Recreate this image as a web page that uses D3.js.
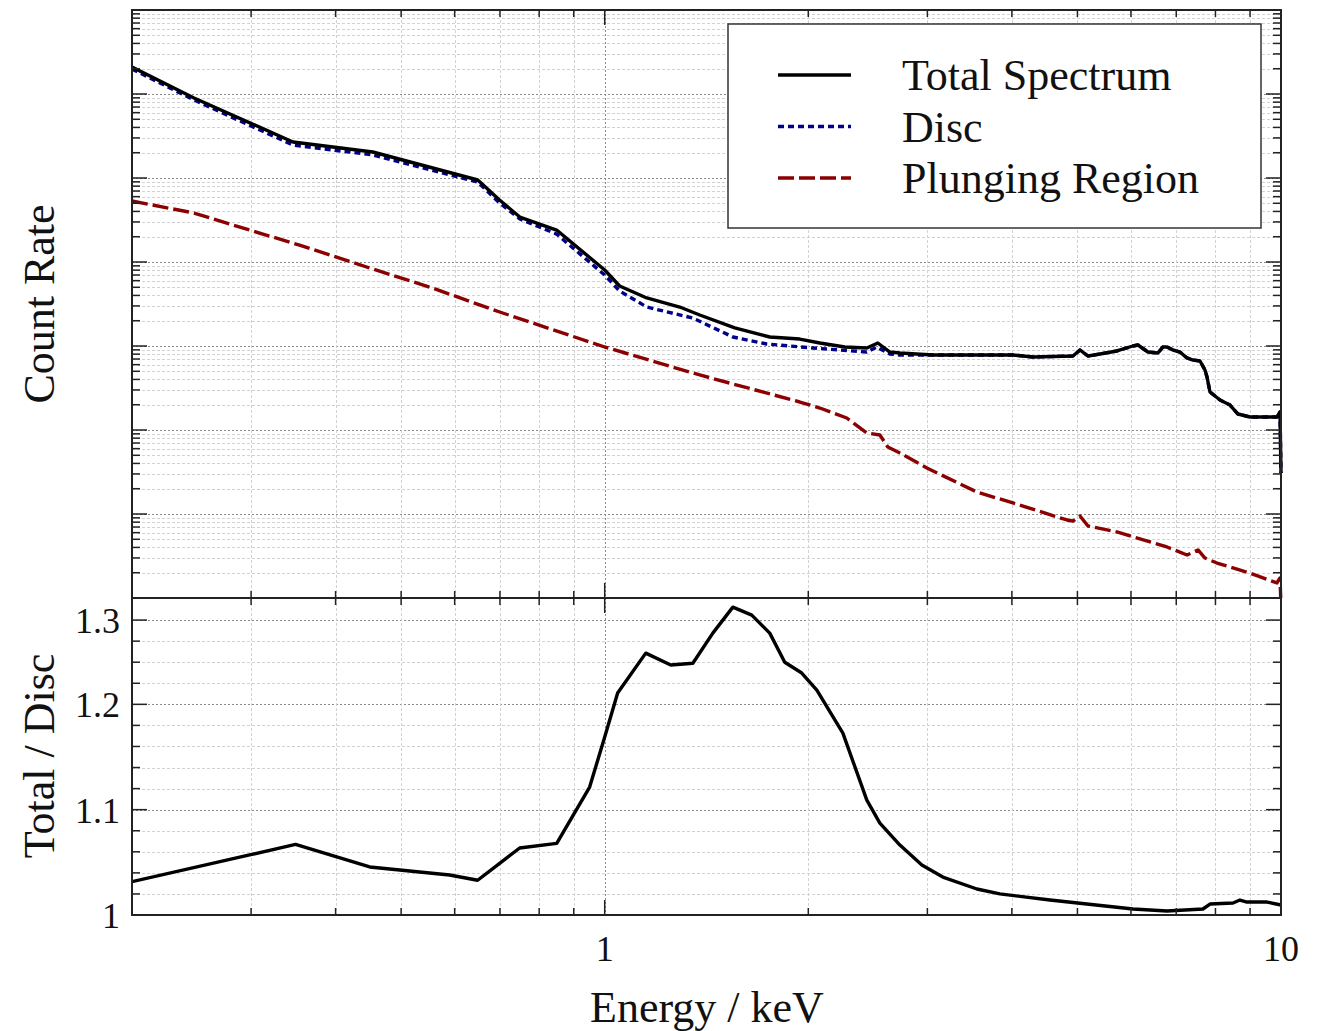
<!DOCTYPE html>
<html>
<head>
<meta charset="utf-8">
<script src="https://cdn.jsdelivr.net/npm/d3@7"></script>
<style>
  body { margin: 0; background: #fff; }
  svg text { font-family: "Liberation Serif", "Times New Roman", serif; fill: #111; }
</style>
</head>
<body>
<svg id="chart" width="1320" height="1031"></svg>
<script>
// --- data ---
var totalEnergy = [0.200, 0.247, 0.346, 0.454, 0.649, 0.699, 0.749, 0.849, 1.0, 1.052, 1.154, 1.291, 1.382,
  1.557, 1.754, 1.943, 2.080, 2.265, 2.441, 2.534, 2.640, 2.732, 3.056, 3.551, 4.014, 4.297, 4.924, 5.044,
  5.183, 5.398, 5.719, 6.040, 6.144, 6.357, 6.577, 6.690, 6.783, 6.922, 7.089, 7.260, 7.410, 7.590, 7.720,
  7.773, 7.852, 8.124, 8.406, 8.638, 8.999, 9.864, 9.966, 10.0];
var totalRate = [2096, 896, 268, 204, 94.7, 54.7, 34.3, 24.0, 8.03, 5.18, 3.73, 2.91, 2.34,
  1.64, 1.28, 1.21, 1.086, 0.973, 0.947, 1.086, 0.848, 0.825, 0.781, 0.781, 0.781, 0.740, 0.760, 0.896,
  0.760, 0.803, 0.872, 1.0, 1.028, 0.848, 0.825, 0.973, 0.973, 0.896, 0.848, 0.720, 0.681, 0.663, 0.518,
  0.428, 0.2835, 0.2276, 0.1984, 0.155, 0.1428, 0.1428, 0.1638, 0.0308];

var discEnergy = [0.200, 0.247, 0.346, 0.454, 0.649, 0.699, 0.749, 0.849, 1.0, 1.052, 1.154, 1.350, 1.547,
  1.736, 2.031, 2.441, 2.525, 2.640, 2.732, 3.056, 3.551, 4.014, 4.297, 4.924, 5.044, 5.183, 5.398, 5.719,
  6.040, 6.144, 6.357, 6.577, 6.690, 6.783, 6.922, 7.089, 7.260, 7.410, 7.590, 7.720, 7.773, 7.852, 8.124,
  8.406, 8.638, 8.999, 9.864, 9.966, 10.0];
var discRate = [1985, 848, 247, 188, 89.6, 50.4, 32.5, 21.5, 7.00, 4.52, 2.91, 2.15, 1.28,
  1.056, 0.947, 0.848, 0.973, 0.803, 0.781, 0.781, 0.781, 0.781, 0.740, 0.760, 0.896, 0.760, 0.803, 0.872,
  1.0, 1.028, 0.848, 0.825, 0.973, 0.973, 0.896, 0.848, 0.720, 0.681, 0.663, 0.518, 0.428, 0.2835, 0.2276,
  0.1984, 0.155, 0.1428, 0.1428, 0.1638, 0.0308];

var plungeEnergy = [0.200, 0.247, 0.2985, 0.3538, 0.4445, 0.5566, 0.6532, 0.6993, 1.0, 1.382, 1.943, 2.080,
  2.280, 2.441, 2.552, 2.622, 2.732, 2.995, 3.551, 4.014, 4.825, 4.924, 5.044, 5.183, 5.719, 6.783, 7.260,
  7.539, 7.720, 8.042, 8.999, 9.864, 9.966, 10.0];
var plungeRate = [53.2, 38.3, 24.0, 15.9, 8.72, 4.90, 3.08, 2.54, 0.973, 0.452, 0.2154, 0.1827,
  0.1389, 0.0921, 0.0872, 0.0627, 0.0532, 0.0353, 0.01828, 0.01352, 0.00849, 0.00825, 0.00947, 0.00720,
  0.00611, 0.00405, 0.00325, 0.00373, 0.00299, 0.00261, 0.00198, 0.00151, 0.00173, 0.0008];

var ratioEnergy = [0.200, 0.2985, 0.349, 0.4493, 0.5897, 0.6488, 0.6993, 0.7486, 0.8493, 0.950, 1.0, 1.045,
  1.150, 1.252, 1.350, 1.445, 1.547, 1.650, 1.754, 1.846, 1.956, 2.059, 2.250, 2.441, 2.552, 2.732, 2.944,
  3.162, 3.551, 3.839, 4.553, 6.040, 6.783, 7.666, 7.852, 8.492, 8.696, 8.906, 9.535, 10.0];
var ratioValue = [1.0316, 1.057, 1.067, 1.0456, 1.038, 1.033, 1.049, 1.0636, 1.068, 1.1215, 1.169, 1.2107,
  1.2486, 1.2373, 1.239, 1.2676, 1.2923, 1.2847, 1.2676, 1.240, 1.2297, 1.2135, 1.1727, 1.109, 1.0873, 1.0664,
  1.0475, 1.036, 1.0247, 1.020, 1.0142, 1.0057, 1.0038, 1.0057, 1.0104, 1.0114, 1.0142, 1.0123, 1.0123, 1.0095];

var energyTicks = [1, 10];
var energyTickLabels = ['1', '10'];
var ratioTicks = [1, 1.1, 1.2, 1.28];
var ratioTickLabels = ['1', '1.1', '1.2', '1.3'];

var seriesNames = ['Total Spectrum', 'Disc', 'Plunging Region'];
var seriesColors = ['#000000', '#00008b', '#8b0000'];
var seriesDash = [null, '6,4', '16,5'];

// --- layout ---
var svg = d3.select('#chart');
var plotLeft = 132, plotRight = 1281, plotTop = 10, plotMid = 598, plotBottom = 915;

var x = d3.scaleLog().domain([0.2, 10]).range([plotLeft, plotRight]);
var yTop = d3.scaleLog().domain([1e-3, 1e4]).range([plotMid, plotTop]);
var yRat = d3.scaleLinear().domain([1, 1.3]).range([plotBottom, 599]);

var xMinor = [0.3, 0.4, 0.5, 0.6, 0.7, 0.8, 0.9, 2, 3, 4, 5, 6, 7, 8, 9];
var decades = d3.range(-3, 5).map(function (e) { return Math.pow(10, e); });
var yMinor = [];
decades.slice(0, -1).forEach(function (d) {
  for (var k = 2; k <= 9; k++) yMinor.push(d * k);
});
var ratioMinor = d3.range(1.02, 1.295, 0.02).filter(function (v) {
  return !ratioTicks.some(function (t) { return Math.abs(t - v) < 1e-6; });
});

var grid = svg.append('g');
function hgrid(vals, scale, color, dash) {
  grid.selectAll(null).data(vals).enter().append('line')
    .attr('x1', plotLeft).attr('x2', plotRight)
    .attr('y1', function (d) { return Math.round(scale(d)) + 0.5; })
    .attr('y2', function (d) { return Math.round(scale(d)) + 0.5; })
    .attr('stroke', color).attr('stroke-width', 1).attr('stroke-dasharray', dash);
}
function vgrid(vals, y0, y1, color, dash) {
  grid.selectAll(null).data(vals).enter().append('line')
    .attr('y1', y0).attr('y2', y1)
    .attr('x1', function (d) { return Math.round(x(d)) + 0.5; })
    .attr('x2', function (d) { return Math.round(x(d)) + 0.5; })
    .attr('stroke', color).attr('stroke-width', 1).attr('stroke-dasharray', dash);
}

// top panel grid
hgrid(yMinor, yTop, '#d2d2d2', '3,2');
hgrid(decades.slice(1, -1), yTop, '#8a8a8a', '2,2');
vgrid(xMinor, plotTop, plotMid, '#d2d2d2', '3,2');
vgrid([1], plotTop, plotMid, '#8a8a8a', '2,2');
// bottom panel grid
hgrid(ratioMinor, yRat, '#d2d2d2', '3,2');
hgrid(ratioTicks.slice(1), yRat, '#8a8a8a', '2,2');
vgrid(xMinor, plotMid, plotBottom, '#d2d2d2', '3,2');
vgrid([1], plotMid, plotBottom, '#8a8a8a', '2,2');

// clip paths
var defs = svg.append('defs');
defs.append('clipPath').attr('id', 'clipTop').append('rect')
  .attr('x', plotLeft).attr('y', plotTop).attr('width', plotRight - plotLeft + 2).attr('height', plotMid - plotTop);
defs.append('clipPath').attr('id', 'clipBot').append('rect')
  .attr('x', plotLeft).attr('y', plotMid).attr('width', plotRight - plotLeft + 2).attr('height', plotBottom - plotMid);

function pairs(xs, ys) {
  return xs.map(function (e, i) { return [e, ys[i]]; });
}
var lineTop = d3.line().x(function (d) { return x(d[0]); }).y(function (d) { return yTop(d[1]); });
var lineRat = d3.line().x(function (d) { return x(d[0]); }).y(function (d) { return yRat(d[1]); });

var plot = svg.append('g').attr('clip-path', 'url(#clipTop)');
var topSeries = [pairs(totalEnergy, totalRate), pairs(discEnergy, discRate), pairs(plungeEnergy, plungeRate)];
[2, 1, 0].forEach(function (i) {
  plot.append('path')
    .attr('d', lineTop(topSeries[i]))
    .attr('fill', 'none')
    .attr('stroke', seriesColors[i])
    .attr('stroke-width', 3.4)
    .attr('stroke-linejoin', 'round')
    .attr('stroke-dasharray', seriesDash[i]);
});

svg.append('g').attr('clip-path', 'url(#clipBot)').append('path')
  .attr('d', lineRat(pairs(ratioEnergy, ratioValue)))
  .attr('fill', 'none')
  .attr('stroke', '#000')
  .attr('stroke-width', 3.4)
  .attr('stroke-linejoin', 'round');

// ticks (inward, mirrored)
var ticks = svg.append('g').attr('stroke', '#222').attr('stroke-width', 1.5);
function xTicks(y, dir) {
  ticks.selectAll(null).data(xMinor.concat([1])).enter().append('line')
    .attr('x1', function (d) { return x(d); }).attr('x2', function (d) { return x(d); })
    .attr('y1', y)
    .attr('y2', function (d) { return y + dir * (d === 1 ? 15 : 7); });
}
xTicks(plotTop, 1); xTicks(plotMid, -1); xTicks(plotMid, 1); xTicks(plotBottom, -1);

function yTicks(scale, majors, minors) {
  [[plotLeft, 1], [plotRight, -1]].forEach(function (s) {
    ticks.selectAll(null).data(majors).enter().append('line')
      .attr('x1', s[0]).attr('x2', s[0] + s[1] * 15)
      .attr('y1', function (d) { return scale(d); }).attr('y2', function (d) { return scale(d); });
    ticks.selectAll(null).data(minors).enter().append('line')
      .attr('x1', s[0]).attr('x2', s[0] + s[1] * 8)
      .attr('y1', function (d) { return scale(d); }).attr('y2', function (d) { return scale(d); });
  });
}
yTicks(yTop, decades.slice(1, -1), yMinor);
yTicks(yRat, ratioTicks.slice(1), ratioMinor);

// frames
svg.append('rect').attr('x', plotLeft).attr('y', plotTop).attr('width', plotRight - plotLeft).attr('height', plotMid - plotTop)
  .attr('fill', 'none').attr('stroke', '#222').attr('stroke-width', 2);
svg.append('rect').attr('x', plotLeft).attr('y', plotMid).attr('width', plotRight - plotLeft).attr('height', plotBottom - plotMid)
  .attr('fill', 'none').attr('stroke', '#222').attr('stroke-width', 2);

// tick labels
svg.selectAll(null).data(energyTicks).enter().append('text')
  .attr('x', function (d) { return x(d); })
  .attr('y', 961)
  .attr('text-anchor', 'middle')
  .attr('font-size', 36)
  .text(function (d, i) { return energyTickLabels[i]; });
svg.selectAll(null).data(ratioTicks).enter().append('text')
  .attr('x', 120)
  .attr('y', function (d) { return yRat(d) + 13; })
  .attr('text-anchor', 'end')
  .attr('font-size', 36)
  .text(function (d, i) { return ratioTickLabels[i]; });

// axis titles
svg.append('text').attr('x', 707).attr('y', 1022).attr('text-anchor', 'middle')
  .attr('font-size', 44).text('Energy / keV');
svg.append('text').attr('transform', 'translate(54,304) rotate(-90)').attr('text-anchor', 'middle')
  .attr('font-size', 44).text('Count Rate');
svg.append('text').attr('transform', 'translate(54,756) rotate(-90)').attr('text-anchor', 'middle')
  .attr('font-size', 44).text('Total / Disc');

// legend
var legend = svg.append('g');
legend.append('rect').attr('x', 728).attr('y', 24).attr('width', 533).attr('height', 204)
  .attr('fill', '#fff').attr('stroke', '#333').attr('stroke-width', 1.5);
var rows = legend.selectAll(null).data(seriesNames).enter().append('g')
  .attr('transform', function (d, i) { return 'translate(0,' + (75 + i * 51.5) + ')'; });
rows.append('line').attr('x1', 778).attr('x2', 851).attr('y1', 0).attr('y2', 0)
  .attr('stroke', function (d, i) { return seriesColors[i]; })
  .attr('stroke-width', 3.4)
  .attr('stroke-dasharray', function (d, i) { return seriesDash[i]; });
rows.append('text').attr('x', 902).attr('y', 15).attr('font-size', 44)
  .text(function (d) { return d; });
</script>
</body>
</html>
